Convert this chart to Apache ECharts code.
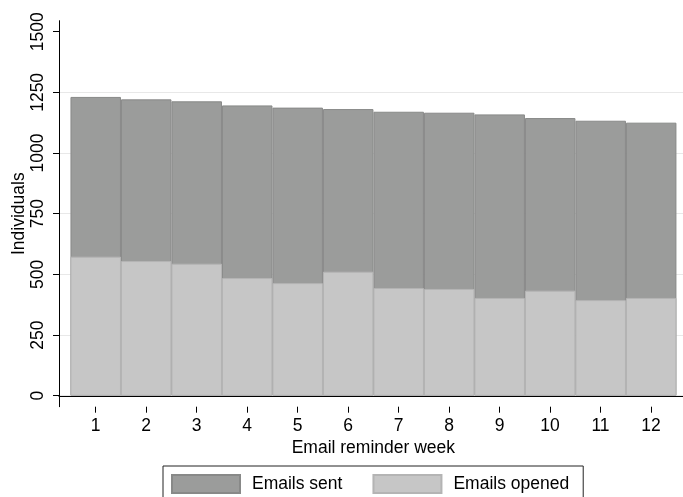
<!DOCTYPE html>
<html>
<head>
<meta charset="utf-8">
<script src="https://cdn.jsdelivr.net/npm/echarts@6/dist/echarts.min.js"></script>
<style>html,body{margin:0;padding:0;background:#fff}#c{width:683px;height:497px}</style>
</head>
<body>
<div id="c"></div>
<script>
const weeks = [1,2,3,4,5,6,7,8,9,10,11,12];
const emailsSent = [1231,1221,1213,1196,1187,1181,1170,1166,1159,1144,1133,1125];
const emailsOpened = [573,555,544,485,464,511,444,440,403,433,394,403];
const yTickMin = 0, yTickMax = 1500, yTickStep = 250;
const xTickMin = 1, xTickMax = 12, xTickStep = 1;

const FONT = '"Liberation Sans", Arial, Helvetica, sans-serif';
const txt = {fontSize: 17.5, color: '#000', fontFamily: FONT};
const chart = echarts.init(document.getElementById('c'), null, {renderer:'canvas'});
chart.setOption({
  animation: false,
  backgroundColor: '#fff',
  textStyle: {fontFamily: FONT, color: '#000'},
  grid: [
    // main plot region (axis lines + bars)
    {left: 59, right: 0, top: 20.7, bottom: 90.3, containLabel: false, outerBoundsMode: 'none'},
    // y ticks / labels / gridlines region (0..1500)
    {left: 59, right: 0, top: 31.7, bottom: 101.3, containLabel: false, outerBoundsMode: 'none'},
    // x ticks / labels region (1..12)
    {left: 95.7, right: 32, top: 31.7, bottom: 90.3, containLabel: false, outerBoundsMode: 'none'}
  ],
  legend: {
    data: ['Emails sent','Emails opened'],
    left: 163, top: 466,
    icon: 'rect', itemWidth: 68, itemHeight: 18, itemGap: 30,
    padding: [8, 14, 10, 8],
    borderColor: '#222', borderWidth: 1,
    textStyle: Object.assign({}, txt, {padding: [0,0,0,7]})
  },
  xAxis: [
    {
      gridIndex: 0, type: 'value', min: 0.273, max: 12.63,
      axisLine: {show: true, lineStyle: {color: '#000', width: 1}},
      axisTick: {show: false}, axisLabel: {show: false}, splitLine: {show: false}
    },
    {gridIndex: 1, type: 'value', min: 0, max: 1, show: false},
    {
      gridIndex: 2, type: 'value', min: xTickMin, max: xTickMax, interval: xTickStep,
      position: 'bottom',
      name: 'Email reminder week', nameLocation: 'middle', nameGap: 32, nameMoveOverlap: false,
      nameTextStyle: txt,
      axisLine: {show: true, lineStyle: {color: 'rgba(0,0,0,0)', width: 1}},
      axisTick: {show: true, inside: false, length: 6, lineStyle: {color: '#000', width: 1}},
      axisLabel: Object.assign({}, txt, {margin: 10, showMinLabel: true, showMaxLabel: true}),
      splitLine: {show: false}
    }
  ],
  yAxis: [
    {
      gridIndex: 0, type: 'value', min: -45, max: 1545,
      axisLine: {show: true, lineStyle: {color: '#000', width: 1}},
      axisTick: {show: false}, axisLabel: {show: false}, splitLine: {show: false}
    },
    {
      gridIndex: 1, type: 'value', min: yTickMin, max: yTickMax, interval: yTickStep,
      position: 'left',
      name: 'Individuals', nameLocation: 'middle', nameGap: 31, nameRotate: 90, nameMoveOverlap: false,
      nameTextStyle: txt,
      axisLine: {show: true, lineStyle: {color: 'rgba(0,0,0,0)', width: 1}},
      axisTick: {show: true, inside: false, length: 6, lineStyle: {color: '#000', width: 1}},
      axisLabel: Object.assign({}, txt, {rotate: 90, margin: 12, formatter: v => String(v),
        showMinLabel: true, showMaxLabel: true}),
      splitLine: {show: true, showMaxLine: false, lineStyle: {color: '#e8e8e8', width: 1}}
    },
    {gridIndex: 2, type: 'value', min: 0, max: 1, show: false}
  ],
  series: [
    {
      name: 'Emails sent', type: 'bar', xAxisIndex: 0, yAxisIndex: 0, z: 2,
      data: weeks.map((w,i) => [w, emailsSent[i]]),
      barWidth: 50.5, barGap: '-100%',
      itemStyle: {color: '#9b9c9b', borderColor: '#888988', borderWidth: 1}
    },
    {
      name: 'Emails opened', type: 'bar', xAxisIndex: 0, yAxisIndex: 0, z: 3,
      data: weeks.map((w,i) => [w, emailsOpened[i]]),
      barWidth: 50.5, barGap: '-100%',
      itemStyle: {color: '#c6c6c6', borderColor: '#b4b4b4', borderWidth: 1}
    }
  ]
});
</script>
</body>
</html>
